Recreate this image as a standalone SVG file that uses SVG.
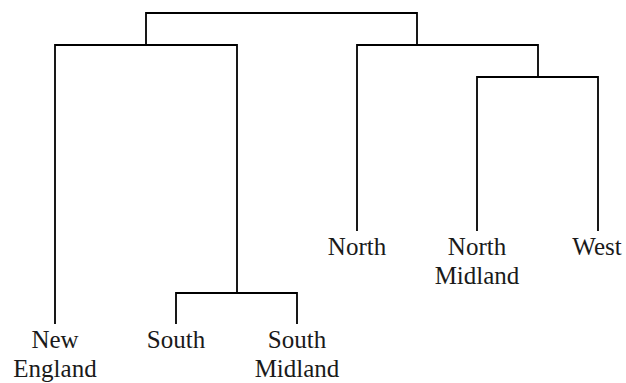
<svg xmlns="http://www.w3.org/2000/svg" width="626" height="383" viewBox="0 0 626 383">
<style>
.l{fill:none;stroke:#000;stroke-width:1.8;stroke-linecap:square}
text{font-family:"Liberation Serif","Times New Roman",serif;font-size:25px;fill:#1a1a1a;text-anchor:middle}
</style>
<rect width="626" height="383" fill="#fff"/>
<g id="connectors">
<path class="l" d="M146,45 V13 H417 V45"/>
<path class="l" d="M55,323 V45 H237 V293"/>
<path class="l" d="M176,323 V293 H297 V323"/>
<path class="l" d="M357,230 V45 H538 V77"/>
<path class="l" d="M477,230 V77 H598 V230"/>
</g>
<g id="new-england"><text x="55" y="348">New</text><text x="55" y="377">England</text></g>
<g id="south"><text x="176" y="348">South</text></g>
<g id="south-midland"><text x="297" y="348">South</text><text x="297" y="377">Midland</text></g>
<g id="north"><text x="357" y="255">North</text></g>
<g id="north-midland"><text x="477" y="255">North</text><text x="477" y="284">Midland</text></g>
<g id="west"><text x="597" y="255">West</text></g>
</svg>
